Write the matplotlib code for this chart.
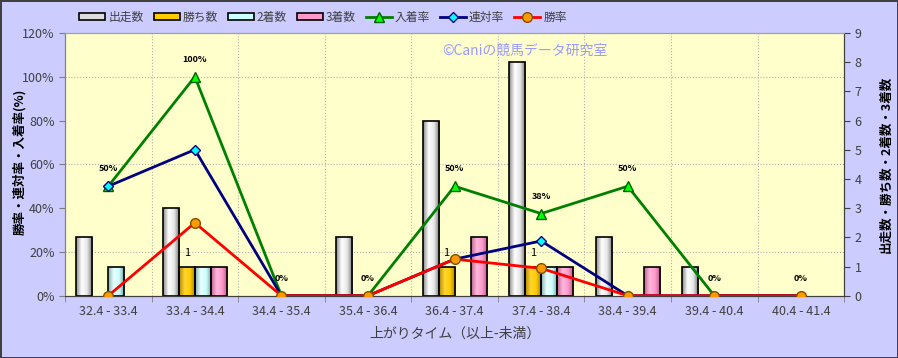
import numpy as np
import matplotlib
matplotlib.use('Agg')
from matplotlib import pyplot as plt
from matplotlib.colors import LinearSegmentedColormap
from matplotlib.patches import Patch

plt.rcParams['font.family'] = ['Noto Sans CJK JP', 'DejaVu Sans']

# データ
categories = ['32.4 - 33.4', '33.4 - 34.4', '34.4 - 35.4', '35.4 - 36.4', '36.4 - 37.4',
              '37.4 - 38.4', '38.4 - 39.4', '39.4 - 40.4', '40.4 - 41.4']
starts = [2, 3, 0, 2, 6, 8, 2, 1, 0]
wins = [0, 1, 0, 0, 1, 1, 0, 0, 0]
seconds = [1, 1, 0, 0, 0, 1, 0, 0, 0]
thirds = [0, 1, 0, 0, 2, 1, 1, 0, 0]
show_rate = [50, 100, 0, 0, 50, 37.5, 50, 0, 0]
place_rate = [50, 66.7, 0, 0, 16.7, 25, 0, 0, 0]
win_rate = [0, 33.3, 0, 0, 16.7, 12.5, 0, 0, 0]
show_labels = ['50%', '100%', '0%', '0%', '50%', '38%', '50%', '0%', '0%']

BG = '#CCCCFF'
PLOT_BG = '#FFFFCC'
TXT = '#404040'


def gradient_bars(ax, bars, colors):
    """棒をグラデーションで塗る"""
    cmap = LinearSegmentedColormap.from_list('g', colors)
    grad = np.linspace(0, 1, 64).reshape(1, -1)
    for rect in bars:
        h = rect.get_height()
        if h <= 0:
            rect.set_visible(False)
            continue
        x, y, w = rect.get_x(), rect.get_y(), rect.get_width()
        im = ax.imshow(grad, cmap=cmap, extent=(x, x + w, y, y + h), aspect='auto',
                       interpolation='bicubic', zorder=2)
        im.set_clip_path(rect)
        rect.set_facecolor('none')
        rect.set_zorder(2.1)


fig = plt.figure(figsize=(8.98, 3.58), dpi=100)
fig.patch.set_facecolor(BG)
fig.patch.set_edgecolor('#404040')
fig.patch.set_linewidth(2)

ax = fig.add_axes([0.0724, 0.174, 0.8676, 0.734])
ax.set_facecolor(PLOT_BG)

x = np.arange(len(categories))
w = 0.185
bar_specs = [
    (starts, '出走数', ['#8a8a8a', '#ffffff', '#e6e6e6', '#707070'], '#dddddd'),
    (wins, '勝ち数', ['#b08800', '#ffd633', '#ffcc00', '#9a7700'], '#ffcc00'),
    (seconds, '2着数', ['#80b0b0', '#eaffff', '#ccffff', '#6f9a9a'], '#ccffff'),
    (thirds, '3着数', ['#c06090', '#ffb8dc', '#ff99cc', '#b05580'], '#ff99cc'),
]
handles = []
labels = []
for i, (vals, lab, cols, flat) in enumerate(bar_specs):
    bars = ax.bar(x + (i - 1.5) * w, vals, width=w, edgecolor='black', linewidth=1.2)
    gradient_bars(ax, bars, cols)
    handles.append(Patch(facecolor=flat, edgecolor='black', linewidth=1.2))
    labels.append(lab)

for xi, v in zip(x, wins):
    if v > 0:
        ax.annotate(str(v), (xi - 0.5 * w, v), xytext=(0, 10), textcoords='offset points',
                    ha='center', va='center', fontsize=8, color='black')

ax.set_xlim(-0.5, len(categories) - 0.5)
ax.set_ylim(0, 9)
ax.set_yticks(range(10))
ax.set_xticks(x)
ax.set_xticklabels(categories)
ax.set_xticks(np.arange(-0.5, len(categories), 1), minor=True)
ax.set_yticks(np.arange(0, 9.1, 1.5), minor=True)
ax.tick_params(axis='x', which='major', length=0, pad=7, labelsize=9, labelcolor=TXT)
ax.tick_params(axis='x', which='minor', length=4, color='#808080')
ax.grid(which='minor', color='#b0b0b0', linestyle=':', linewidth=0.8)
ax.set_axisbelow(True)
ax.set_xlabel('上がりタイム（以上-未満）', fontsize=10, color=TXT, labelpad=6)

# 割合の軸
ax2 = ax.twinx()
ax2.yaxis.tick_left()
ax2.yaxis.set_label_position('left')
ax.yaxis.tick_right()
ax.yaxis.set_label_position('right')
ax.tick_params(axis='y', which='major', length=4, labelsize=9, labelcolor=TXT, color='#404040')
ax.tick_params(axis='y', which='minor', length=0)
ax.set_ylabel('出走数・勝ち数・2着数・3着数', fontsize=9, fontweight='bold', color='black')
ax.yaxis.set_label_coords(1.045, 0.5)

l1, = ax2.plot(x, show_rate, color='#008000', linewidth=2, marker='^', markersize=7,
               markerfacecolor='#00ff00', markeredgecolor='#006000', zorder=3)
l2, = ax2.plot(x, place_rate, color='#000080', linewidth=2, marker='D', markersize=5,
               markerfacecolor='#00ffff', markeredgecolor='#000080', zorder=4)
l3, = ax2.plot(x, win_rate, color='#ff0000', linewidth=2, marker='o', markersize=7,
               markerfacecolor='#ff9900', markeredgecolor='#805000', zorder=5)
for xi, v, s in zip(x, show_rate, show_labels):
    ax2.annotate(s, (xi, v), xytext=(0, 12.5), textcoords='offset points',
                 ha='center', va='center', fontsize=6.5, fontweight='bold', color='black')
ax2.set_ylim(0, 120)
ax2.set_yticks(range(0, 121, 20))
ax2.set_yticklabels(['%d%%' % t for t in range(0, 121, 20)])
ax2.tick_params(axis='y', length=4, labelsize=9, labelcolor=TXT, color='#808080')
ax2.set_ylabel('勝率・連対率・入着率(%)', fontsize=9, fontweight='bold', color='black')
ax2.yaxis.set_label_coords(-0.05, 0.51)
ax2.set_xlim(-0.5, len(categories) - 0.5)

for a in (ax, ax2):
    a.spines['top'].set_color('#a0a0a0')
    a.spines['left'].set_color('#808080')
    a.spines['bottom'].set_color('#404040')
    a.spines['right'].set_color('#404040')

handles += [l1, l2, l3]
labels += ['入着率', '連対率', '勝率']
fig.legend(handles, labels, loc='center', bbox_to_anchor=(323 / 898, 1 - 17 / 358), ncol=7,
           frameon=False, fontsize=8.5, handlelength=2.2, handleheight=0.6,
           handletextpad=0.25, columnspacing=0.85, labelcolor=TXT)

fig.text(525 / 898, 1 - 51 / 358, '©Caniの競馬データ研究室', fontsize=10, color='#9999ff',
         ha='center', va='center')

fig.savefig('out.png', dpi=100, facecolor=fig.get_facecolor(), edgecolor=fig.get_edgecolor())
